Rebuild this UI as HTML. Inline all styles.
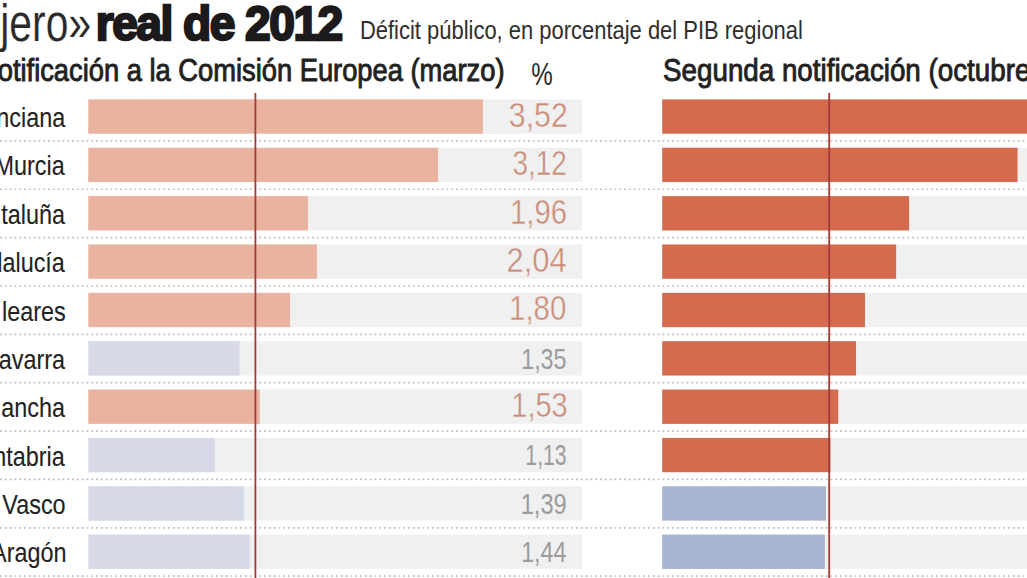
<!DOCTYPE html>
<html><head><meta charset="utf-8"><style>
html,body{margin:0;padding:0;background:#fff;width:1027px;height:578px;overflow:hidden}
svg{display:block}
text{font-family:"Liberation Sans",sans-serif}
</style></head><body>
<svg width="1027" height="578" viewBox="0 0 1027 578">
<rect width="1027" height="578" fill="#fff"/>
<rect x="88.3" y="99.40" width="493.70" height="34.3" fill="#f0f0f0"/>
<rect x="662.2" y="99.40" width="374.80" height="34.3" fill="#f0f0f0"/>
<rect x="88.3" y="99.40" width="394.59" height="34.3" fill="#e9b39f"/>
<rect x="662.2" y="99.40" width="374.80" height="34.3" fill="#d46a4e"/>
<rect x="88.3" y="147.76" width="493.70" height="34.3" fill="#f0f0f0"/>
<rect x="662.2" y="147.76" width="374.80" height="34.3" fill="#f0f0f0"/>
<rect x="88.3" y="147.76" width="349.75" height="34.3" fill="#e9b39f"/>
<rect x="662.2" y="147.76" width="355.37" height="34.3" fill="#d46a4e"/>
<rect x="88.3" y="196.12" width="493.70" height="34.3" fill="#f0f0f0"/>
<rect x="662.2" y="196.12" width="374.80" height="34.3" fill="#f0f0f0"/>
<rect x="88.3" y="196.12" width="219.72" height="34.3" fill="#e9b39f"/>
<rect x="662.2" y="196.12" width="246.86" height="34.3" fill="#d46a4e"/>
<rect x="88.3" y="244.48" width="493.70" height="34.3" fill="#f0f0f0"/>
<rect x="662.2" y="244.48" width="374.80" height="34.3" fill="#f0f0f0"/>
<rect x="88.3" y="244.48" width="228.68" height="34.3" fill="#e9b39f"/>
<rect x="662.2" y="244.48" width="233.94" height="34.3" fill="#d46a4e"/>
<rect x="88.3" y="292.84" width="493.70" height="34.3" fill="#f0f0f0"/>
<rect x="662.2" y="292.84" width="374.80" height="34.3" fill="#f0f0f0"/>
<rect x="88.3" y="292.84" width="201.78" height="34.3" fill="#e9b39f"/>
<rect x="662.2" y="292.84" width="202.75" height="34.3" fill="#d46a4e"/>
<rect x="88.3" y="341.20" width="493.70" height="34.3" fill="#f0f0f0"/>
<rect x="662.2" y="341.20" width="374.80" height="34.3" fill="#f0f0f0"/>
<rect x="88.3" y="341.20" width="151.34" height="34.3" fill="#d5dae6"/>
<rect x="662.2" y="341.20" width="193.84" height="34.3" fill="#d46a4e"/>
<rect x="88.3" y="389.56" width="493.70" height="34.3" fill="#f0f0f0"/>
<rect x="662.2" y="389.56" width="374.80" height="34.3" fill="#f0f0f0"/>
<rect x="88.3" y="389.56" width="171.51" height="34.3" fill="#e9b39f"/>
<rect x="662.2" y="389.56" width="176.01" height="34.3" fill="#d46a4e"/>
<rect x="88.3" y="437.92" width="493.70" height="34.3" fill="#f0f0f0"/>
<rect x="662.2" y="437.92" width="374.80" height="34.3" fill="#f0f0f0"/>
<rect x="88.3" y="437.92" width="126.67" height="34.3" fill="#d5dae6"/>
<rect x="662.2" y="437.92" width="168.21" height="34.3" fill="#d46a4e"/>
<rect x="88.3" y="486.28" width="493.70" height="34.3" fill="#f0f0f0"/>
<rect x="662.2" y="486.28" width="374.80" height="34.3" fill="#f0f0f0"/>
<rect x="88.3" y="486.28" width="155.82" height="34.3" fill="#d5dae6"/>
<rect x="662.2" y="486.28" width="163.76" height="34.3" fill="#a7b6d0"/>
<rect x="88.3" y="534.64" width="493.70" height="34.3" fill="#f0f0f0"/>
<rect x="662.2" y="534.64" width="374.80" height="34.3" fill="#f0f0f0"/>
<rect x="88.3" y="534.64" width="161.42" height="34.3" fill="#d5dae6"/>
<rect x="662.2" y="534.64" width="162.64" height="34.3" fill="#a7b6d0"/>
<line x1="0" y1="140.90" x2="1027" y2="140.90" stroke="#c4c4c8" stroke-width="1.7" stroke-dasharray="2 2.8"/>
<line x1="0" y1="189.26" x2="1027" y2="189.26" stroke="#c4c4c8" stroke-width="1.7" stroke-dasharray="2 2.8"/>
<line x1="0" y1="237.62" x2="1027" y2="237.62" stroke="#c4c4c8" stroke-width="1.7" stroke-dasharray="2 2.8"/>
<line x1="0" y1="285.98" x2="1027" y2="285.98" stroke="#c4c4c8" stroke-width="1.7" stroke-dasharray="2 2.8"/>
<line x1="0" y1="334.34" x2="1027" y2="334.34" stroke="#c4c4c8" stroke-width="1.7" stroke-dasharray="2 2.8"/>
<line x1="0" y1="382.70" x2="1027" y2="382.70" stroke="#c4c4c8" stroke-width="1.7" stroke-dasharray="2 2.8"/>
<line x1="0" y1="431.06" x2="1027" y2="431.06" stroke="#c4c4c8" stroke-width="1.7" stroke-dasharray="2 2.8"/>
<line x1="0" y1="479.42" x2="1027" y2="479.42" stroke="#c4c4c8" stroke-width="1.7" stroke-dasharray="2 2.8"/>
<line x1="0" y1="527.78" x2="1027" y2="527.78" stroke="#c4c4c8" stroke-width="1.7" stroke-dasharray="2 2.8"/>
<line x1="0" y1="576.14" x2="1027" y2="576.14" stroke="#c4c4c8" stroke-width="1.7" stroke-dasharray="2 2.8"/>
<rect x="254.5" y="93" width="1.8" height="490" fill="#a03c34"/>
<rect x="828.3" y="93" width="1.8" height="490" fill="#a03c34"/>
<text transform="translate(0.29 40.50) scale(0.8010 1)" font-size="51" font-weight="normal" fill="#2a2a2a" stroke="#fff" stroke-width="0.15">jero»</text>
<text transform="translate(95.70 39.60) scale(0.9516 1)" font-size="48.5" font-weight="bold" fill="#1c1a1b" stroke="#1c1a1b" stroke-width="2.4" letter-spacing="-1.6">real de 2012</text>
<text transform="translate(359.94 39.40) scale(0.8286 1)" font-size="26.5" font-weight="normal" fill="#2e2e2e" >Déficit público, en porcentaje del PIB regional</text>
<text transform="translate(-22.01 81.00) scale(0.8956 1)" font-size="30.5" font-weight="normal" fill="#222" stroke="#222" stroke-width="0.9">Notificación a la Comisión Europea (marzo)</text>
<text transform="translate(531.34 85.30) scale(0.7556 1)" font-size="32" font-weight="normal" fill="#2a2a2a" >%</text>
<text transform="translate(663.09 81.00) scale(0.9103 1)" font-size="30.5" font-weight="normal" fill="#222" stroke="#222" stroke-width="0.9">Segunda notificación (octubre)</text>
<text transform="translate(-78.76 127.10) scale(0.8419 1)" font-size="27.8" font-weight="normal" fill="#222" stroke="#222" stroke-width="0.1">C. Valenciana</text>
<text transform="translate(-5.52 175.46) scale(0.8419 1)" font-size="27.8" font-weight="normal" fill="#222" stroke="#222" stroke-width="0.1">Murcia</text>
<text transform="translate(1.22 223.82) scale(0.8419 1)" font-size="27.8" font-weight="normal" fill="#222" stroke="#222" stroke-width="0.1">taluña</text>
<text transform="translate(-39.19 272.18) scale(0.8419 1)" font-size="27.8" font-weight="normal" fill="#222" stroke="#222" stroke-width="0.1">Andalucía</text>
<text transform="translate(2.06 320.54) scale(0.8419 1)" font-size="27.8" font-weight="normal" fill="#222" stroke="#222" stroke-width="0.1">leares</text>
<text transform="translate(-18.15 368.90) scale(0.8419 1)" font-size="27.8" font-weight="normal" fill="#222" stroke="#222" stroke-width="0.1">Navarra</text>
<text transform="translate(1.22 417.26) scale(0.8419 1)" font-size="27.8" font-weight="normal" fill="#222" stroke="#222" stroke-width="0.1">ancha</text>
<text transform="translate(-36.67 465.62) scale(0.8419 1)" font-size="27.8" font-weight="normal" fill="#222" stroke="#222" stroke-width="0.1">Cantabria</text>
<text transform="translate(-50.98 513.98) scale(0.8419 1)" font-size="27.8" font-weight="normal" fill="#222" stroke="#222" stroke-width="0.1">País Vasco</text>
<text transform="translate(-8.89 562.34) scale(0.8419 1)" font-size="27.8" font-weight="normal" fill="#222" stroke="#222" stroke-width="0.1">Aragón</text>
<text transform="translate(508.79 126.90) scale(0.8538 1)" font-size="35.5" font-weight="normal" fill="#c98a76" stroke="#eeeeee" stroke-width="0.5">3,52</text>
<text transform="translate(512.42 175.26) scale(0.7877 1)" font-size="35.5" font-weight="normal" fill="#c98a76" stroke="#eeeeee" stroke-width="0.5">3,12</text>
<text transform="translate(510.02 223.62) scale(0.8250 1)" font-size="35.5" font-weight="normal" fill="#c98a76" stroke="#eeeeee" stroke-width="0.5">1,96</text>
<text transform="translate(506.56 271.98) scale(0.8712 1)" font-size="35.5" font-weight="normal" fill="#c98a76" stroke="#eeeeee" stroke-width="0.5">2,04</text>
<text transform="translate(509.01 320.34) scale(0.8308 1)" font-size="35.5" font-weight="normal" fill="#c98a76" stroke="#eeeeee" stroke-width="0.5">1,80</text>
<text transform="translate(521.19 368.70) scale(0.8038 1)" font-size="29" font-weight="normal" fill="#9c9c9c" >1,35</text>
<text transform="translate(511.35 417.06) scale(0.8156 1)" font-size="35.5" font-weight="normal" fill="#c98a76" stroke="#eeeeee" stroke-width="0.5">1,53</text>
<text transform="translate(525.34 465.42) scale(0.7321 1)" font-size="29" font-weight="normal" fill="#9c9c9c" >1,13</text>
<text transform="translate(520.67 513.78) scale(0.8170 1)" font-size="29" font-weight="normal" fill="#9c9c9c" >1,39</text>
<text transform="translate(521.20 562.14) scale(0.8019 1)" font-size="29" font-weight="normal" fill="#9c9c9c" >1,44</text>
</svg>
</body></html>
